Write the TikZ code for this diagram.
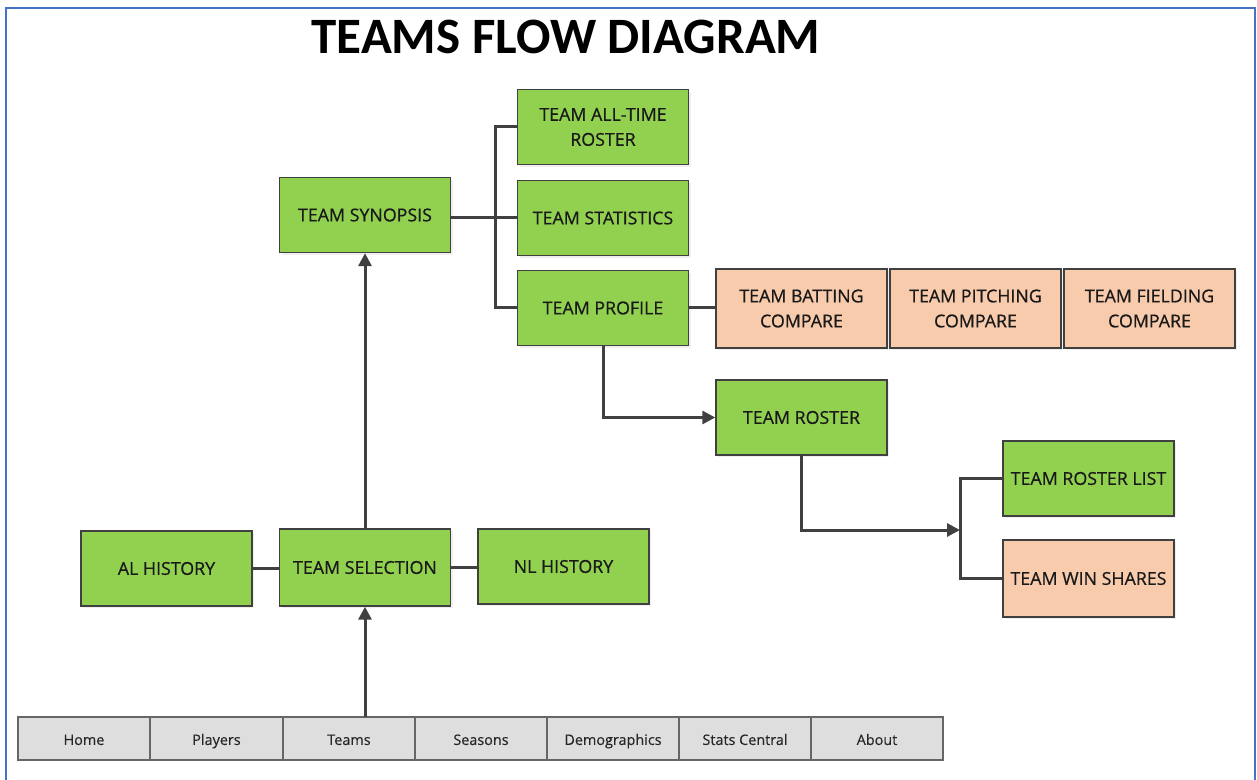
\documentclass[tikz,border=0pt]{standalone}
\usepackage{fontspec}
\setmainfont{Open Sans}
\newfontfamily\titlefont{Carlito}
\newfontfamily\boxfont[FakeBold=0.6]{Open Sans}
\newfontfamily\navfont[FakeBold=0.3]{Open Sans}
\usetikzlibrary{arrows.meta,shadows}
\definecolor{boxgreen}{HTML}{92D050}
\definecolor{boxpeach}{HTML}{F8CBAD}
\definecolor{navgray}{HTML}{DEDEDE}
\definecolor{edgegray}{HTML}{404040}
\definecolor{framblue}{HTML}{4472C4}
\tikzset{
  gbox/.style={draw=edgegray, line width=0.7pt, fill=boxgreen, minimum width=85.5pt, minimum height=37.5pt, inner sep=0pt, align=center, font=\boxfont\fontsize{8.9}{12.5}\selectfont, text=black!90, drop shadow={opacity=0.12, shadow xshift=1.2pt, shadow yshift=-1.2pt}},
  pbox/.style={gbox, fill=boxpeach},
  navbox/.style={draw=gray!80!black, line width=0.6pt, fill=navgray, minimum width=66pt, minimum height=21.5pt, inner sep=0pt, text height=1.55ex, text depth=0.35ex, font=\navfont\fontsize{7.2}{9}\selectfont, text=black!85},
  conn/.style={draw=edgegray, line width=1.5pt},
  arr/.style={conn, -{Triangle[length=6.5pt,width=6.5pt]}},
}
\begin{document}
\begin{tikzpicture}[x=0.5pt,y=-0.5pt]
\useasboundingbox (0,0) rectangle (1257,780);
\fill[white] (0,0) rectangle (1257,780);
\draw[framblue, line width=1.4pt] (6,780) -- (6,8) -- (1255,8) -- (1255,780);
\node[font=\titlefont\bfseries\fontsize{25.5}{30}\selectfont] (title) at (566,37) {TEAMS FLOW DIAGRAM};

% boxes
\node[gbox] (alltime) at (603,127) {TEAM ALL-TIME\\ROSTER};
\node[gbox] (synopsis) at (365,215) {TEAM SYNOPSIS};
\node[gbox] (stats) at (603,218) {TEAM STATISTICS};
\node[gbox] (profile) at (603,308) {TEAM PROFILE};
\node[pbox, minimum height=39.5pt] (batting) at (801.5,308.5) {TEAM BATTING\\COMPARE};
\node[pbox, minimum height=39.5pt] (pitching) at (975.5,308.5) {TEAM PITCHING\\COMPARE};
\node[pbox, minimum height=39.5pt] (fielding) at (1149.5,308.5) {TEAM FIELDING\\COMPARE};
\node[gbox] (roster) at (801.5,417.5) {TEAM ROSTER};
\node[gbox] (rlist) at (1088.5,478.5) {TEAM ROSTER LIST};
\node[pbox, minimum height=38.5pt] (winshares) at (1088.5,578.5) {TEAM WIN SHARES};
\node[gbox] (alhist) at (166.5,568.5) {AL HISTORY};
\node[gbox, minimum height=38.5pt] (selection) at (365,567.5) {TEAM SELECTION};
\node[gbox] (nlhist) at (563.5,566.5) {NL HISTORY};

% nav bar
\node[navbox] (home) at (84,738.5) {Home};
\node[navbox] (players) at (216.5,738.5) {Players};
\node[navbox] (teams) at (349,738.5) {Teams};
\node[navbox] (seasons) at (481,738.5) {Seasons};
\node[navbox] (demo) at (613,738.5) {Demographics};
\node[navbox] (statsc) at (745,738.5) {Stats Central};
\node[navbox] (about) at (877,738.5) {About};

\coordinate (teamsup) at (365,717);
\coordinate (busA) at (495,218);
\coordinate (busB) at (960,530);

% connectors
\draw[arr] (teamsup) -- (selection.south -| teamsup);
\draw[arr] (selection.north) -- (synopsis.south);
\draw[conn] (alhist.east) -- (alhist.east -| selection.west);
\draw[conn] (selection.east) -- (selection.east -| nlhist.west);
\draw[conn] (synopsis.east |- busA) -- (stats.west |- busA);
\draw[conn] (alltime.west) -| (busA) |- (profile.west);
\draw[conn] (profile.east) -- (batting.west |- profile.east);
\draw[arr] (profile.south) |- (roster.west);
\draw[arr] (roster.south) |- (busB);
\draw[conn] (rlist.west) -| (busB) |- (winshares.west);
\end{tikzpicture}
\end{document}
